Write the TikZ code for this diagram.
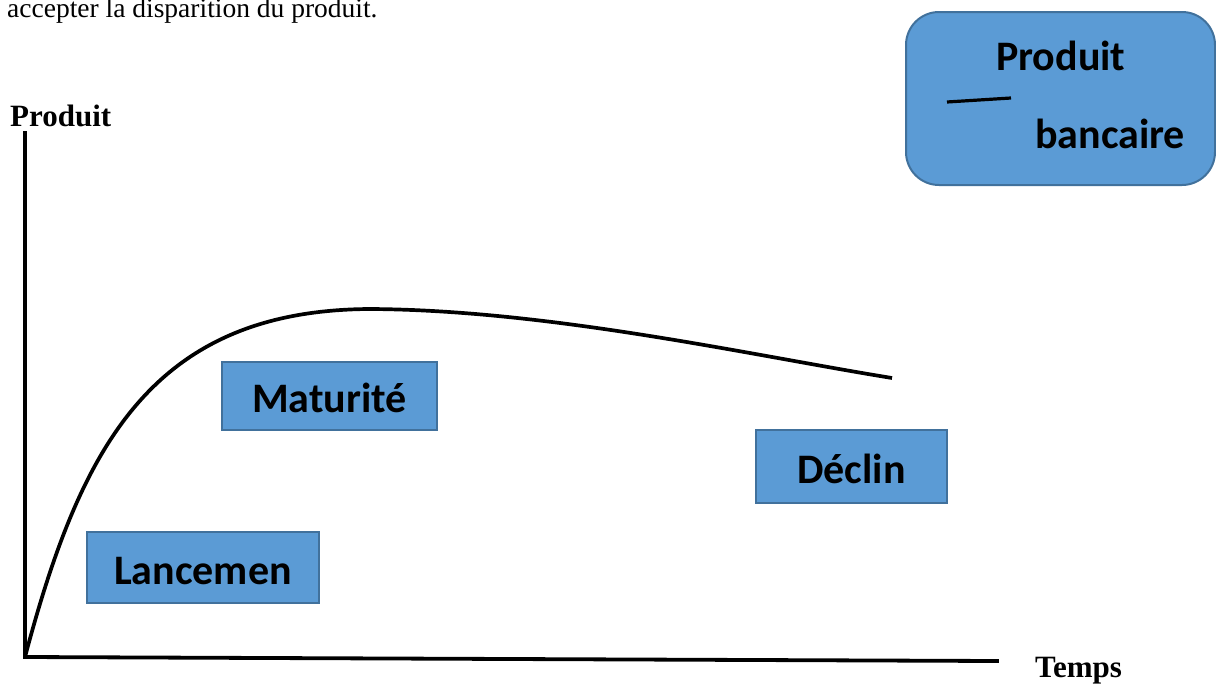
\documentclass[tikz,border=0pt]{standalone}
\usepackage{fontspec}
\setmainfont{Liberation Serif}
\newfontfamily\boxfont{Carlito}
\definecolor{boxfill}{HTML}{5B9BD5}
\definecolor{boxline}{HTML}{41719C}
\begin{document}
\begin{tikzpicture}[x=1pt,y=-1pt,
  stagebox/.style={draw=boxline, line width=2pt, fill=boxfill, inner sep=0pt,
    font=\boxfont\bfseries\fontsize{42}{50}\selectfont, text height=33pt, text depth=0pt},
  boxtext/.style={anchor=base west, inner sep=0pt, font=\boxfont\bfseries\fontsize{42}{50}\selectfont},
  axislabel/.style={anchor=base west, inner sep=0pt, font=\bfseries\fontsize{31}{37}\selectfont},
  axisline/.style={line width=3.8pt, line cap=rect},
  curveline/.style={line width=3.7pt}]
\useasboundingbox (0,0) rectangle (1216,686);
% top text
\node[anchor=base west, inner sep=0pt, font=\fontsize{27.5}{33}\selectfont] (toptext) at (7,17) {accepter la disparition du produit.};
% top-right box
\node[draw=boxline, line width=2pt, fill=boxfill, rounded corners=33pt, minimum width=309pt, minimum height=173pt, inner sep=0pt] (legend) at (1060.5,98.5) {};
\node[boxtext] (legA) at (996,70) {Produit};
\node[boxtext] (legB) at (1035,148) {bancaire};
\coordinate (dashA) at (947,102);
\coordinate (dashB) at (1011,98);
\draw[line width=3.2pt] (dashA) -- (dashB);
% axes
\coordinate (origin) at (25,657);
\coordinate (ytop) at (25,133);
\coordinate (xend) at (997,661);
\draw[axisline] (ytop) -- (origin) -- (xend);
\node[axislabel] (ylab) at (10,126) {Produit};
\node[axislabel] (xlab) at (1035,677) {Temps};
% curve
\coordinate (peak) at (370,309);
\coordinate (cend) at (892,378);
\draw[curveline] (origin) .. controls (80,450) and (150,310) .. (peak)
  .. controls (550,310) and (750,355) .. (cend);
% stage boxes
\node[stagebox, minimum width=215pt, minimum height=68pt] (mat) at (329.5,396) {Maturité};
\node[stagebox, minimum width=191pt, minimum height=73pt] (dec) at (851.5,466.5) {Déclin};
\node[stagebox, minimum width=232pt, minimum height=71pt] (lan) at (203,567.5) {Lancemen};
\end{tikzpicture}
\end{document}
